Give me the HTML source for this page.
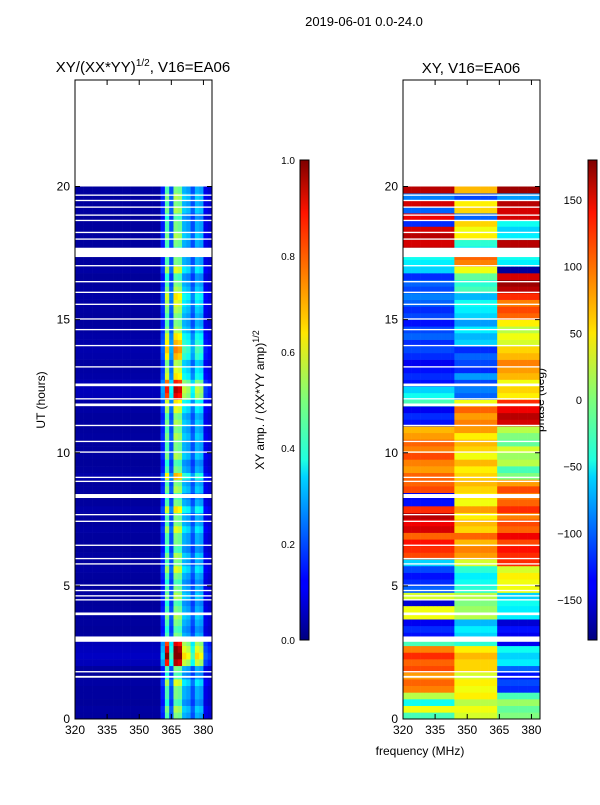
<!DOCTYPE html>
<html><head><meta charset="utf-8"><style>
body{margin:0;background:#fff;width:600px;height:800px;overflow:hidden;font-family:"Liberation Sans",sans-serif}
</style></head><body>
<svg id="fig" width="600" height="800" xmlns="http://www.w3.org/2000/svg" font-family="Liberation Sans, sans-serif">
<text x="364" y="26" font-size="13" text-anchor="middle">2019-06-01 0.0-24.0</text>
<text x="143" y="72" font-size="15" text-anchor="middle">XY/(XX*YY)<tspan dy="-6" font-size="10">1/2</tspan><tspan dy="6">, V16=EA06</tspan></text>
<text x="471" y="73" font-size="15" text-anchor="middle">XY, V16=EA06</text>
<text x="420" y="755" font-size="12" text-anchor="middle">frequency (MHz)</text>
<text transform="translate(45,400) rotate(-90)" font-size="12" text-anchor="middle">UT (hours)</text>
<text transform="translate(264,400) rotate(-90)" font-size="12" text-anchor="middle">XY amp. / (XX*YY amp)<tspan dy="-5" font-size="9">1/2</tspan></text>
<text transform="translate(544,400) rotate(-90)" font-size="12" text-anchor="middle">phase (deg)</text>
<g id="left"></g>
<g id="right"></g>
<g id="axes"></g>
<defs>
<linearGradient id="jetg" x1="0" y1="1" x2="0" y2="0">
<stop offset="0" stop-color="#00007f"/><stop offset="0.11" stop-color="#0000ff"/><stop offset="0.125" stop-color="#0000ff"/><stop offset="0.34" stop-color="#00d4ff"/><stop offset="0.375" stop-color="#1fffe0"/><stop offset="0.5" stop-color="#7dff7a"/><stop offset="0.64" stop-color="#ffe600"/><stop offset="0.66" stop-color="#ffd200"/><stop offset="0.89" stop-color="#ff1400"/><stop offset="1" stop-color="#7f0000"/>
</linearGradient></defs>
<rect x="300" y="160" width="9" height="480" fill="url(#jetg)" stroke="#000" stroke-width="1"/>
<rect x="588" y="160" width="9" height="480" fill="url(#jetg)" stroke="#000" stroke-width="1"/>
</svg>
<script>
const freqBins=[320,322,324,326,328,330,332,334,336,338,340,342,344,346,348,350,352,354,356,358,360,362,364,366,368,370,372,374,376,378,380,382];
const ampProfile=[0.03,0.03,0.03,0.03,0.03,0.03,0.03,0.03,0.03,0.03,0.03,0.03,0.03,0.03,0.03,0.03,0.03,0.03,0.03,0.03,0.15,0.45,0.2,0.5,0.48,0.3,0.28,0.2,0.3,0.28,0.1,0.08];
const ampGain=[1,1.1,0.9,1,1,1.2,0.9,1,1.9,2.2,2,1.8,1,0.9,1,1.1,1,0.9,1.1,1,0.9,1,1.2,1,1.1,0.9,1,1,1.2,1,1,1.3,1,0.9,1.1,1,1.4,1,0.9,1.1,1,1,1.1,1,1.1,1,1.2,1.3,1.8,1.9,1.7,1.3,1.2,1.1,1.4,1.5,1.4,1.3,1.1,1,1,1.1,1.2,1.3,1.1,1,0.9,1.2,1,1,0.9,1,1.1,1,1,0.9,1.1,1,1.1,1];
const phaseA=[-20,40,-40,20,90,100,80,110,100,120,90,-20,-130,-120,-140,40,40,-150,30,-100,-120,-130,-110,-60,110,120,130,100,150,140,160,120,-130,-140,110,100,100,80,90,110,90,100,80,70,-130,-120,-140,-20,-40,-60,-130,-120,-130,-140,-120,-110,-120,-100,-110,-130,-110,-120,-100,-90,-110,-100,-120,-60,-50,-40,160,150,160,150,-120,140,-100,150,-90,160];
const phaseB=[30,40,20,50,40,50,30,60,60,70,50,-30,-60,-50,-70,20,10,0,20,-30,-40,-50,-30,30,80,90,70,100,60,70,50,80,40,50,60,70,60,50,70,40,60,70,50,80,90,80,100,40,-100,-90,-110,-80,-120,-110,-100,-120,-60,-70,-50,-80,-60,-50,-40,-70,-20,-30,-10,40,90,100,-50,-30,50,40,60,-100,60,50,-110,70];
const phaseC=[0,-10,10,-20,-120,-110,-130,-100,-50,-60,-40,-140,-140,-130,-150,-50,-50,-40,-60,40,40,50,30,120,120,130,110,140,100,110,90,120,100,90,110,80,0,-20,20,10,30,-10,0,20,150,160,140,120,50,60,40,70,80,90,70,60,30,40,20,50,100,110,90,120,160,170,150,-170,-50,-40,170,160,-50,-60,-40,150,150,160,-80,170];
const gaps=[[1.55,1.62],[1.75,1.8],[2.9,3.1],[3.9,4.0],[4.45,4.5],[4.6,4.65],[4.8,4.85],[5.0,5.05],[5.8,5.85],[6.0,6.05],[6.5,6.55],[7.4,7.45],[7.65,7.7],[8.3,8.45],[8.9,8.95],[9.05,9.1],[10.0,10.05],[10.4,10.45],[11.0,11.05],[11.75,11.85],[12.0,12.05],[12.5,12.6],[13.2,13.25],[14.0,14.05],[14.6,14.65],[15.0,15.05],[15.55,15.6],[16.0,16.05],[16.4,16.45],[17.0,17.05],[17.35,17.7],[18.0,18.05],[18.25,18.3],[18.7,18.75],[18.9,18.95],[19.2,19.25],[19.45,19.5],[19.65,19.7]];
const ampTicks=[0,0.2,0.4,0.6,0.8,1.0];
const phaseTicks=[-150,-100,-50,0,50,100,150];
const xTicks=[320,335,350,365,380];
const yTicks=[0,5,10,15,20];
const NS='http://www.w3.org/2000/svg';
const panels=[{x0:75,g:'left'},{x0:403,g:'right'}];
const W=137,Y0=719,H=639;
function xs(f,x0){return x0+(f-320)/64*W;}
function ys(h){return Y0-h/24*H;}
function jet(v){v=Math.max(0,Math.min(1,v));const r=Math.min(4*v-1.5,-4*v+4.5),g=Math.min(4*v-0.5,-4*v+3.5),b=Math.min(4*v+0.5,-4*v+2.5);const c=x=>Math.round(255*Math.max(0,Math.min(1,x)));return `rgb(${c(r)},${c(g)},${c(b)})`;}
function mk(t,a,p){const e=document.createElementNS(NS,t);for(const k in a)e.setAttribute(k,a[k]);p.appendChild(e);return e;}
const gl=document.getElementById('left'),gr=document.getElementById('right');
function wrap(d){while(d>180)d-=360;while(d<-180)d+=360;return d;}
for(let r=0;r<ampGain.length;r++){
  const y1=ys((r+1)*0.25),y0=ys(r*0.25);
  for(let c=0;c<freqBins.length;c++){
    const xa=xs(freqBins[c],75),xb=xs(freqBins[c]+2,75);
    const el=mk('rect',{x:xa,y:y1,width:xb-xa+0.3,height:y0-y1+0.3,fill:jet(ampProfile[c]*ampGain[r])},gl);
    
    
    const f=freqBins[c]+1;let p;
    if(f<345)p=phaseA[r];else if(f<365)p=phaseB[r];else p=phaseC[r];
    const xa2=xs(freqBins[c],403),xb2=xs(freqBins[c]+2,403);
    const e2=mk('rect',{x:xa2,y:y1,width:xb2-xa2+0.3,height:y0-y1+0.3,fill:jet((wrap(p)+180)/360)},gr);
    
    
  }
}
const ax=document.getElementById('axes');
for(const p of panels){
  for(const g of gaps){
    const e=mk('rect',{x:p.x0,y:ys(g[1]),width:W,height:ys(g[0])-ys(g[1]),fill:'#fff'},ax);
    
    
  }
  const fr=mk('rect',{x:p.x0,y:80,width:W,height:H,fill:'none',stroke:'#000','stroke-width':1},ax);
  
  
  for(const t of xTicks){const x=xs(t,p.x0);
    mk('line',{x1:x,y1:Y0,x2:x,y2:Y0-5,stroke:'#000'},ax);mk('line',{x1:x,y1:80,x2:x,y2:85,stroke:'#000'},ax);
    const tx=mk('text',{x:x,y:Y0+15,'font-size':12,'text-anchor':'middle'},ax);tx.textContent=t;
    
    }
  for(const t of yTicks){const y=ys(t);
    mk('line',{x1:p.x0,y1:y,x2:p.x0+5,y2:y,stroke:'#000'},ax);mk('line',{x1:p.x0+W,y1:y,x2:p.x0+W-5,y2:y,stroke:'#000'},ax);
    const tx=mk('text',{x:p.x0-5,y:y+4,'font-size':12,'text-anchor':'end'},ax);tx.textContent=t;
    
    }
}
for(const t of ampTicks){const y=640-t*480;
  mk('line',{x1:300,y1:y,x2:304,y2:y,stroke:'#000'},ax);
  const tx=mk('text',{x:295,y:y+4,'font-size':10,'text-anchor':'end'},ax);tx.textContent=t.toFixed(1);
  
  }
for(const t of phaseTicks){const y=400-t/180*240;
  mk('line',{x1:588,y1:y,x2:592,y2:y,stroke:'#000'},ax);
  const tx=mk('text',{x:582,y:y+4,'font-size':11,'text-anchor':'end'},ax);tx.textContent=t<0?'\u2212'+(-t):t;
  
  }
</script>
</body></html>
